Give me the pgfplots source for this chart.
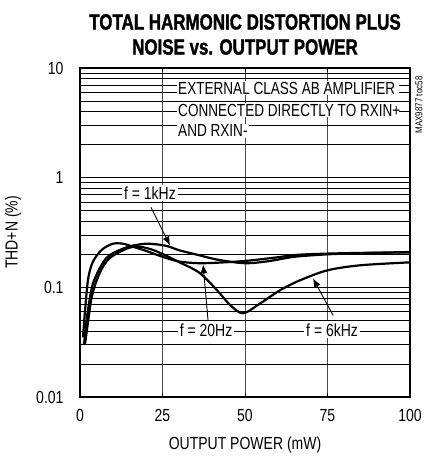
\documentclass[border=0pt]{standalone}
\usepackage{fontspec}
\setmainfont{Liberation Sans}[FakeStretch=0.80]
\newfontfamily\boxfont{Liberation Sans}[FakeStretch=0.775]
\newfontfamily\titlefont{Liberation Sans}[FakeStretch=0.77, BoldFeatures={FakeBold=1.4}]
\usepackage{pgfplots}
\pgfplotsset{compat=1.18}
\usetikzlibrary{arrows.meta}
\begin{document}
\begin{tikzpicture}
\begin{axis}[name=ax, at={(0,0)}, anchor=south west, scale only axis,
  width=330pt, height=329pt,
  xmin=0, xmax=100, ymode=log, ymin=0.01, ymax=10,
  xtick={0,25,50,75,100},
  ytick={0.01,0.1,1,10}, yticklabels={0.01,0.1,1,10},
  /pgf/number format/assume math mode=true,
  ticklabel style={font=\fontsize{17.5}{20}\selectfont},
  xticklabel style={anchor=north, yshift=-9pt},
  yticklabel style={anchor=east, xshift=-13pt},
  axis line style={line width=2.2pt},
  tick style={black, line width=0.6pt},
  major tick length=4pt, minor tick length=3pt,
  xmajorgrids, ymajorgrids, yminorgrids,
  major grid style={black, line width=0.8pt},
  minor grid style={black, line width=0.8pt},
  x grid style={black!70, line width=0.6pt},
  clip=false,
]
% white label boxes covering grid
\node[fill=white, anchor=west, inner sep=1pt, font=\boxfont\fontsize{17.5}{20}\selectfont] at (rel axis cs:0.294,0.939) {\makebox[220pt][l]{EXTERNAL CLASS AB AMPLIFIER}};
\node[fill=white, anchor=west, inner sep=1pt, font=\boxfont\fontsize{17.5}{20}\selectfont] at (rel axis cs:0.294,0.872) {\makebox[220pt][l]{CONNECTED DIRECTLY TO RXIN+}};
\node[fill=white, anchor=west, inner sep=1pt, font=\boxfont\fontsize{17.5}{20}\selectfont] at (rel axis cs:0.294,0.809) {\makebox[70pt][l]{AND RXIN-}};
\node[fill=white, inner sep=2pt, font=\fontsize{17.5}{20}\selectfont] at (rel axis cs:0.212,0.620) {f = 1kHz};
\node[fill=white, inner sep=2pt, font=\fontsize{17.5}{20}\selectfont] at (rel axis cs:0.382,0.204) {f = 20Hz};
\node[fill=white, inner sep=2pt, font=\fontsize{17.5}{20}\selectfont] at (rel axis cs:0.764,0.204) {f = 6kHz};
% f = 20Hz
\addplot[black, line width=2.2pt, smooth, tension=0.5] coordinates {
(0.9,0.035) (1.5,0.06) (2.4,0.116) (3.5,0.16) (4.8,0.19) (7,0.225) (10,0.25) (13,0.25) (16,0.235) (20,0.215) (25,0.19) (30,0.172) (36,0.166) (42,0.168) (50,0.174) (58,0.185) (66,0.198) (75,0.203) (85,0.206) (100,0.208)};
% f = 1kHz
\addplot[black, line width=2.2pt, smooth, tension=0.5] coordinates {
(1.2,0.03) (2,0.05) (3,0.08) (4,0.11) (6,0.15) (8,0.185) (10,0.205) (13,0.225) (16,0.24) (20,0.25) (24,0.245) (27,0.235) (30,0.218) (35,0.2) (42,0.178) (50,0.166) (57,0.173) (65,0.19) (75,0.2) (85,0.205) (100,0.21)};
% f = 6kHz
\addplot[black, line width=2.2pt, smooth, tension=0.5] coordinates {
(1.5,0.03) (2.5,0.05) (3.5,0.08) (5,0.115) (7,0.155) (9,0.185) (12,0.21) (15,0.23) (18,0.235) (22,0.22) (26,0.195) (30,0.17) (36,0.137) (41,0.098) (45.5,0.069) (49.4,0.058) (54.5,0.071) (60.6,0.094) (66.7,0.116) (75,0.143) (85,0.159) (100,0.169)};
% arrows
\draw[-{Latex[length=9pt,width=7pt]}, line width=0.9pt] (axis cs:21.5,0.536) -- (axis cs:27.3,0.241);
\draw[-{Latex[length=9pt,width=7pt]}, line width=0.9pt] (axis cs:38.8,0.05) -- (axis cs:37.3,0.162);
\draw[-{Latex[length=9pt,width=7pt]}, line width=0.9pt] (axis cs:76.7,0.0555) -- (axis cs:70.6,0.121);
\end{axis}
\node[font=\titlefont\bfseries\fontsize{22}{26}\selectfont] at (165pt,375pt) {TOTAL HARMONIC DISTORTION PLUS};
\node[font=\titlefont\bfseries\fontsize{22}{26}\selectfont] at (165pt,350pt) {NOISE vs. OUTPUT POWER};
\node[font=\fontsize{17.5}{20}\selectfont] at (165pt,-48pt) {OUTPUT POWER (mW)};
\node[font=\fontsize{17.5}{20}\selectfont, rotate=90] at (-67pt,164.5pt) {THD+N (\%)};
\node[font=\fontsize{10}{11}\selectfont, rotate=90] at (339pt,292pt) {MAX9877 toc58};
\path (-80pt,-62pt) rectangle (344pt,397pt);
\end{tikzpicture}
\end{document}
